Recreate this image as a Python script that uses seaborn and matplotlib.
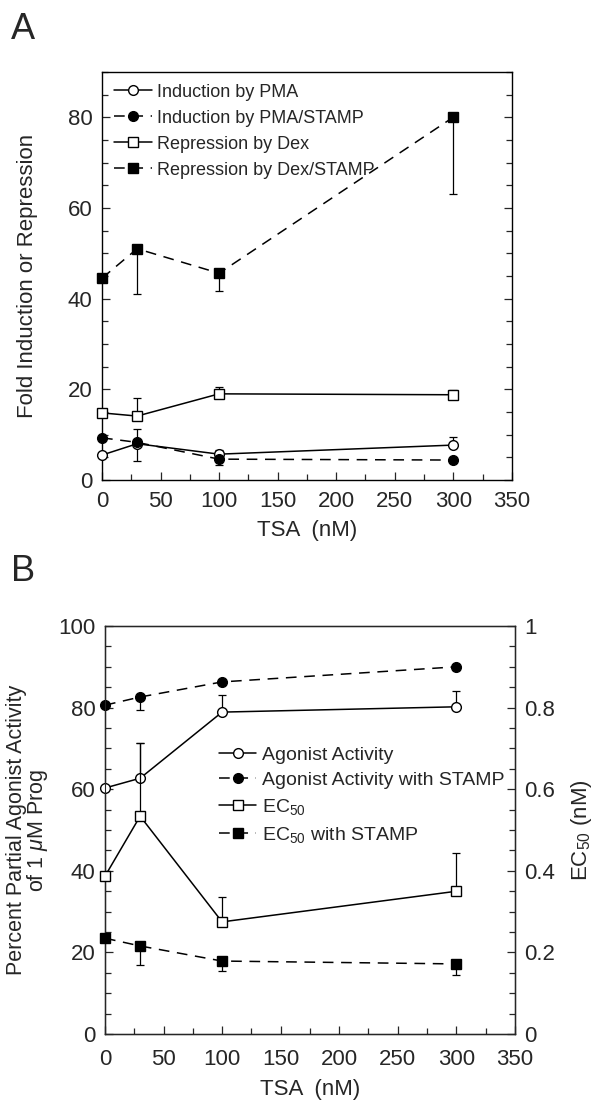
import matplotlib
matplotlib.use('Agg')
import matplotlib.pyplot as plt
import seaborn as sns
from matplotlib.ticker import MultipleLocator

sns.set_style('ticks')
plt.rcParams['font.family'] = ['Liberation Sans', 'DejaVu Sans']
plt.rcParams['mathtext.fontset'] = 'custom'
plt.rcParams['mathtext.rm'] = 'Liberation Sans'
plt.rcParams['mathtext.it'] = 'Liberation Sans:italic'

## data
tsa = [0, 30, 100, 300]

# panel A
pma = [5.5, 8.0, 5.7, 7.7]
pma_err_up = [0, 3.2, 0.9, 1.8]
pma_stamp = [9.3, 8.3, 4.6, 4.4]
pma_stamp_err_lo = [0, 4.1, 1.3, 0]
dex = [14.8, 14.1, 19.0, 18.8]
dex_err_up = [0, 3.9, 1.5, 1.0]
dex_stamp = [44.5, 51.0, 45.6, 80.0]
dex_stamp_err_lo = [0, 10.0, 3.9, 17.0]

# panel B
agon = [60.3, 62.7, 78.9, 80.2]
agon_err_up = [0, 8.6, 4.1, 3.8]
agon_stamp = [80.6, 82.6, 86.3, 90.0]
agon_stamp_err_lo = [0, 3.2, 0, 0.8]
ec50 = [0.387, 0.534, 0.275, 0.350]
ec50_err_up = [0, 0.179, 0.061, 0.094]
ec50_stamp = [0.235, 0.216, 0.179, 0.172]
ec50_stamp_err_lo = [0, 0.047, 0.025, 0.027]

DASH = (0, (7, 5))
FS = 16


def series(ax, y, lo, up, marker, filled, dashed, label, ms):
    ax.errorbar(tsa, y, yerr=[lo, up], fmt='none', ecolor='black',
                elinewidth=0.9, capsize=3, capthick=0.9, zorder=2, clip_on=False)
    sns.lineplot(x=tsa, y=y, ax=ax, color='black', lw=1.1,
                 linestyle=DASH if dashed else '-',
                 marker=marker, markersize=ms,
                 markerfacecolor='black' if filled else 'white',
                 markeredgecolor='black', markeredgewidth=1.0,
                 label=label, zorder=3, clip_on=False)


def style_axis(ax, ymaj, ymin, xpad):
    ax.set_xlim(0, 350)
    ax.xaxis.set_major_locator(MultipleLocator(50))
    ax.xaxis.set_minor_locator(MultipleLocator(25))
    ax.yaxis.set_major_locator(MultipleLocator(ymaj))
    ax.yaxis.set_minor_locator(MultipleLocator(ymin))
    ax.tick_params(which='both', direction='in', labelsize=FS, width=0.9, pad=7)
    ax.tick_params(axis='x', which='both', pad=xpad)
    ax.tick_params(which='major', length=6)
    ax.tick_params(which='minor', length=4)
    for s in ax.spines.values():
        s.set_linewidth(1.0)
        s.set_color('black')
    ax.set_xlabel('TSA  (nM)', fontsize=FS, labelpad=6)


fig = plt.figure(figsize=(6, 11.06), dpi=100)

## panel A
axA = fig.add_axes([0.170, 0.566, 0.683, 0.369])
series(axA, pma, [0] * 4, pma_err_up, 'o', False, False, 'Induction by PMA', 7)
series(axA, pma_stamp, pma_stamp_err_lo, [0] * 4, 'o', True, True, 'Induction by PMA/STAMP', 7)
series(axA, dex, [0] * 4, dex_err_up, 's', False, False, 'Repression by Dex', 7.5)
series(axA, dex_stamp, dex_stamp_err_lo, [0] * 4, 's', True, True, 'Repression by Dex/STAMP', 7.5)
axA.set_ylim(0, 90)
style_axis(axA, 20, 5, 8)
axA.set_yticks([0, 20, 40, 60, 80])
axA.tick_params(axis='y', which='both', right=True)
axA.set_ylabel('Fold Induction or Repression', fontsize=FS, labelpad=21)
axA.legend(loc='upper left', bbox_to_anchor=(0.0, 1.0), frameon=False,
           fontsize=13, handlelength=2.1, handletextpad=0.3,
           labelspacing=0.5, borderaxespad=0.25)
fig.text(0.018, 0.965, 'A', fontsize=26)

## panel B
axB = fig.add_axes([0.175, 0.065, 0.683, 0.369])
axR = axB.twinx()
series(axB, agon, [0] * 4, agon_err_up, 'o', False, False, 'Agonist Activity', 7)
series(axB, agon_stamp, agon_stamp_err_lo, [0] * 4, 'o', True, True, 'Agonist Activity with STAMP', 7)
series(axR, ec50, [0] * 4, ec50_err_up, 's', False, False, 'EC$_{50}$', 7.5)
series(axR, ec50_stamp, ec50_stamp_err_lo, [0] * 4, 's', True, True, 'EC$_{50}$ with STAMP', 7.5)
axB.set_ylim(0, 100)
axR.set_ylim(0, 1)
style_axis(axB, 20, 5, 11)
axR.yaxis.set_major_locator(MultipleLocator(0.2))
axR.yaxis.set_minor_locator(MultipleLocator(0.05))
axR.tick_params(which='both', direction='in', labelsize=FS, width=0.9, pad=7)
axR.tick_params(which='major', length=6)
axR.tick_params(which='minor', length=4)
axR.set_yticks([0, 0.2, 0.4, 0.6, 0.8, 1])
axR.set_yticklabels(['0', '0.2', '0.4', '0.6', '0.8', '1'])
axB.set_ylabel('Percent Partial Agonist Activity\nof 1 $\\mathit{\\mu}$M Prog',
               fontsize=15.5, labelpad=6, linespacing=0.85)
axR.set_ylabel('EC$_{50}$ (nM)', fontsize=FS, labelpad=10)

h1, l1 = axB.get_legend_handles_labels()
h2, l2 = axR.get_legend_handles_labels()
if axB.get_legend():
    axB.get_legend().remove()
if axR.get_legend():
    axR.get_legend().remove()
axR.legend(h1 + h2, l1 + l2, loc='upper left', bbox_to_anchor=(0.26, 0.725),
           frameon=False, fontsize=14, handlelength=1.9, handletextpad=0.3,
           labelspacing=0.4, borderaxespad=0)
fig.text(0.018, 0.475, 'B', fontsize=26)

fig.savefig('out.png', dpi=100)
